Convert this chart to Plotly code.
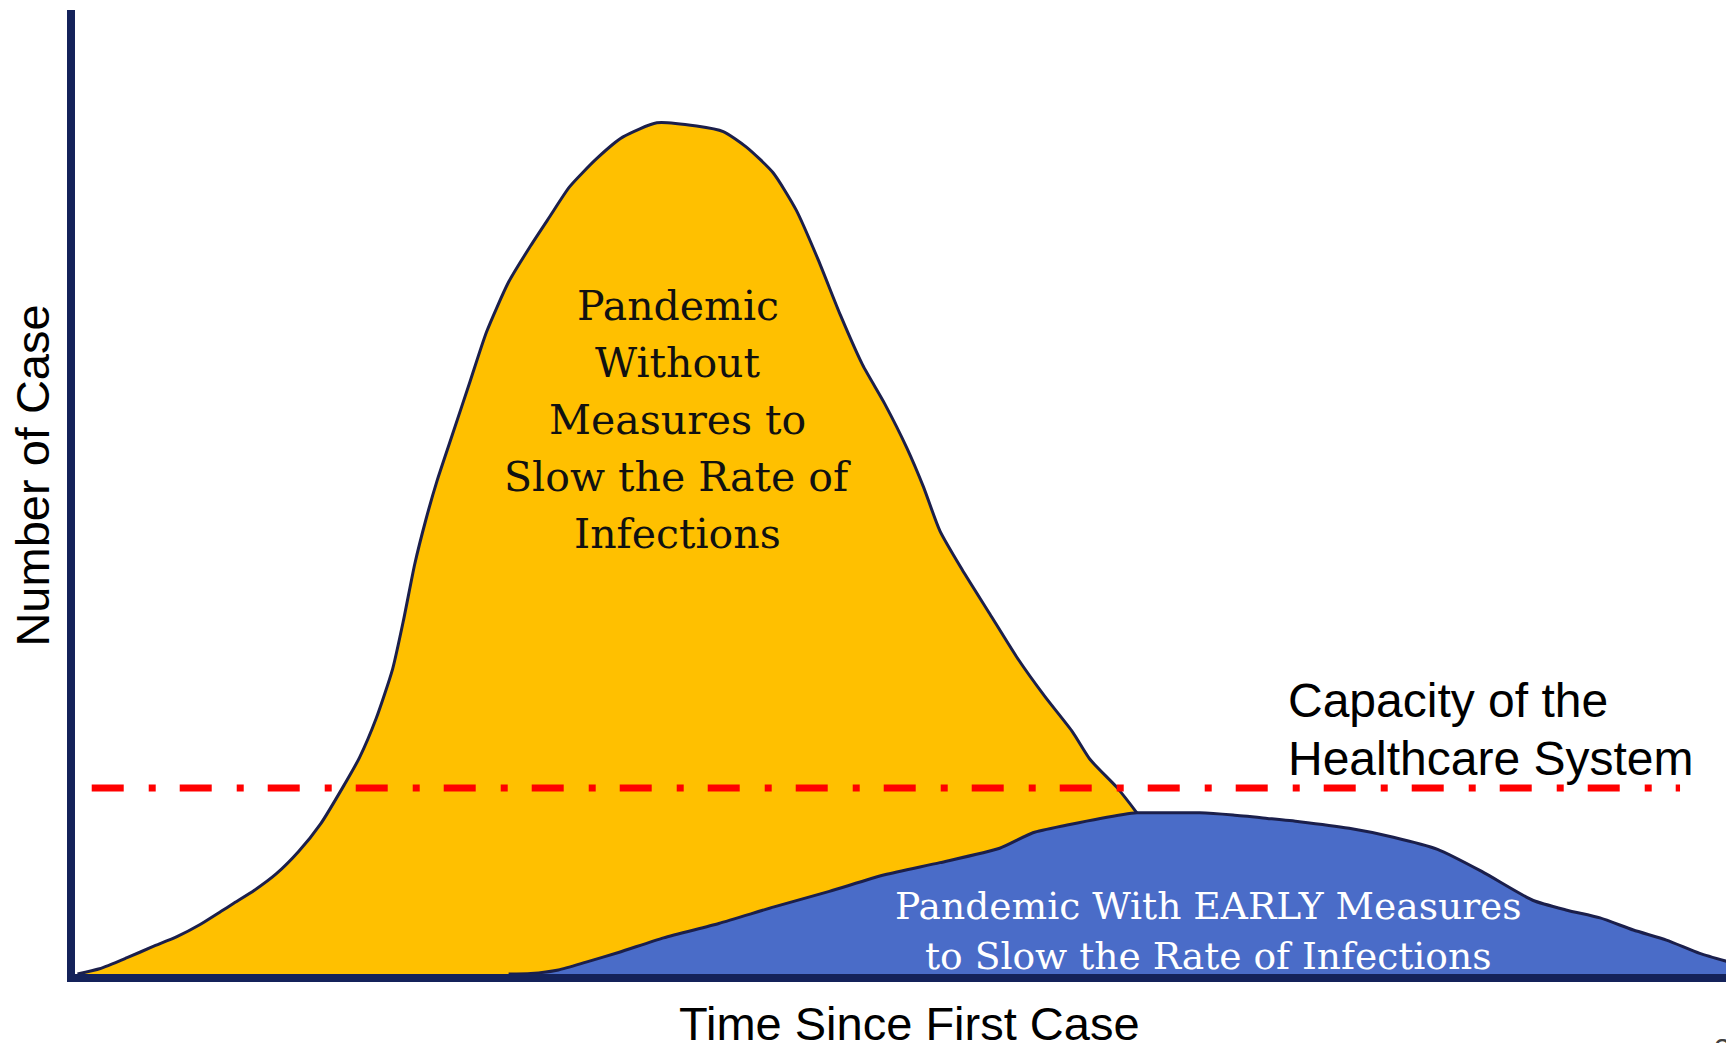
import plotly.graph_objects as go

# ---- data (arbitrary units: time 0-100, cases 0-100) ----
no_measures_t = [0.15, 1.48, 3.15, 4.69, 6.16, 7.56, 8.83, 9.57, 10.84, 12.17, 13.51, 14.84,
                 16.18, 17.19, 18.19, 19.19, 19.86, 20.53, 21.20, 21.87, 22.87, 23.87, 24.87,
                 26.20, 27.54, 28.68, 29.88, 31.55, 33.09, 35.16, 37.56, 39.17, 40.57, 42.17,
                 43.58, 44.91, 46.25, 47.59, 48.92, 50.26, 51.26, 52.26, 53.60, 55.27, 56.94,
                 58.61, 60.28, 61.35, 62.95, 64.16, 66.30, 68.97, 71.64, 72.98]
no_measures_cases = [0.0, 0.54, 1.69, 2.83, 3.87, 5.13, 6.50, 7.31, 8.68, 10.40, 12.70, 15.57,
                     19.36, 22.45, 26.47, 31.63, 36.79, 42.53, 47.12, 51.13, 56.30, 61.46, 66.62,
                     71.78, 75.57, 78.55, 81.65, 84.63, 86.81, 88.30, 87.96, 87.39, 85.78, 83.14,
                     79.24, 74.08, 68.34, 63.18, 59.17, 54.58, 50.56, 45.97, 41.96, 37.37, 32.78,
                     28.77, 25.10, 22.22, 19.36, 16.72, 11.55, 5.82, 1.23, 0.0]

early_t = [26.20, 27.54, 29.21, 30.88, 32.89, 35.56, 38.90, 42.24, 45.58, 48.92, 52.26, 55.87,
           57.88, 59.95, 61.95, 64.16, 65.96, 67.96, 69.97, 72.04, 73.98, 76.99, 79.66, 82.33,
           85.00, 88.08, 90.15, 92.15, 94.16, 96.16, 98.17, 99.97]
early_cases = [0.0, 0.05, 0.42, 1.23, 2.26, 3.75, 5.24, 6.96, 8.57, 10.29, 11.55, 13.04,
               14.65, 15.45, 16.14, 16.72, 16.72, 16.72, 16.49, 16.14, 15.80, 15.11, 14.19, 12.93,
               10.64, 7.65, 6.62, 5.82, 4.56, 3.52, 2.14, 1.23]

capacity_t = [1.01, 96.98]
capacity_level = 19.3

label_no_measures = ["Pandemic", "Without", "Measures to", "Slow the Rate of", "Infections"]
label_early = ["Pandemic With EARLY Measures", "to Slow the Rate of Infections"]
label_capacity = ["Capacity of the", "Healthcare System"]
x_title = "Time Since First Case"
y_title = "Number of Case"
page_number = "22"

# ---- styles ----
YELLOW = "#FFC000"
BLUE = "#4A6CC8"
OUTLINE = "#1B1F4B"
AXIS = "#14225A"
RED = "#FF0000"
SERIF = "DejaVu Serif"
SANS = "Liberation Sans, Arial, sans-serif"

fig = go.Figure()

fig.add_trace(go.Scatter(
    x=no_measures_t, y=no_measures_cases, mode="lines",
    line=dict(color=OUTLINE, width=3, shape="spline", smoothing=0.6),
    fill="tozeroy", fillcolor=YELLOW, hoverinfo="skip", showlegend=False))

fig.add_trace(go.Scatter(
    x=early_t, y=early_cases, mode="lines",
    line=dict(color=OUTLINE, width=3, shape="spline", smoothing=0.6),
    fill="tozeroy", fillcolor=BLUE, hoverinfo="skip", showlegend=False))

fig.add_trace(go.Scatter(
    x=capacity_t, y=[capacity_level] * len(capacity_t), mode="lines",
    line=dict(color=RED, width=7, dash="32px,25px,7px,24px"),
    hoverinfo="skip", showlegend=False))

annotations = []
# yellow-area label, one annotation per line
y0, step = 69.34, 5.93
for i, line in enumerate(label_no_measures):
    annotations.append(dict(x=36.43, y=y0 - i * step, xref="x", yref="y", text=line,
                            showarrow=False, xanchor="center", yanchor="middle",
                            font=dict(family=SERIF, size=41, color="#111111")))
# blue-area label
for i, line in enumerate(label_early):
    annotations.append(dict(x=68.46, y=7.05 - i * 5.18, xref="x", yref="y", text=line,
                            showarrow=False, xanchor="center", yanchor="middle",
                            font=dict(family=SERIF, size=37.6, color="#FFFFFF")))
# capacity label
for i, line in enumerate(label_capacity):
    annotations.append(dict(x=73.2, y=28.36 - i * 5.97, xref="x", yref="y", text=line,
                            showarrow=False, xanchor="left", yanchor="middle",
                            font=dict(family=SANS, size=48, color="#000000")))
# axis titles
annotations.append(dict(x=50.45, y=-0.0515, xref="x", yref="paper", text=x_title,
                        showarrow=False, xanchor="center", yanchor="middle",
                        font=dict(family=SANS, size=47, color="#000000")))
annotations.append(dict(x=-0.0254, y=0.517, xref="paper", yref="paper", text=y_title,
                        textangle=-90, showarrow=False, xanchor="center", yanchor="middle",
                        font=dict(family=SANS, size=47, color="#000000")))
annotations.append(dict(x=98.9, y=-0.0768, xref="x", yref="paper", text=page_number,
                        showarrow=False, xanchor="left", yanchor="middle",
                        font=dict(family=SANS, size=30, color="#404040")))

fig.update_layout(
    width=1734, height=1043,
    margin=dict(l=67, r=12, t=2, b=77),
    paper_bgcolor="white", plot_bgcolor="white",
    annotations=annotations,
    xaxis=dict(range=[0, 100], showgrid=False, zeroline=False, showticklabels=False,
               ticks="", showline=True, linewidth=8, linecolor=AXIS),
    yaxis=dict(range=[0, 100], showgrid=False, zeroline=False, showticklabels=False,
               ticks="", showline=True, linewidth=8, linecolor=AXIS),
)

fig.write_html("out.html")
